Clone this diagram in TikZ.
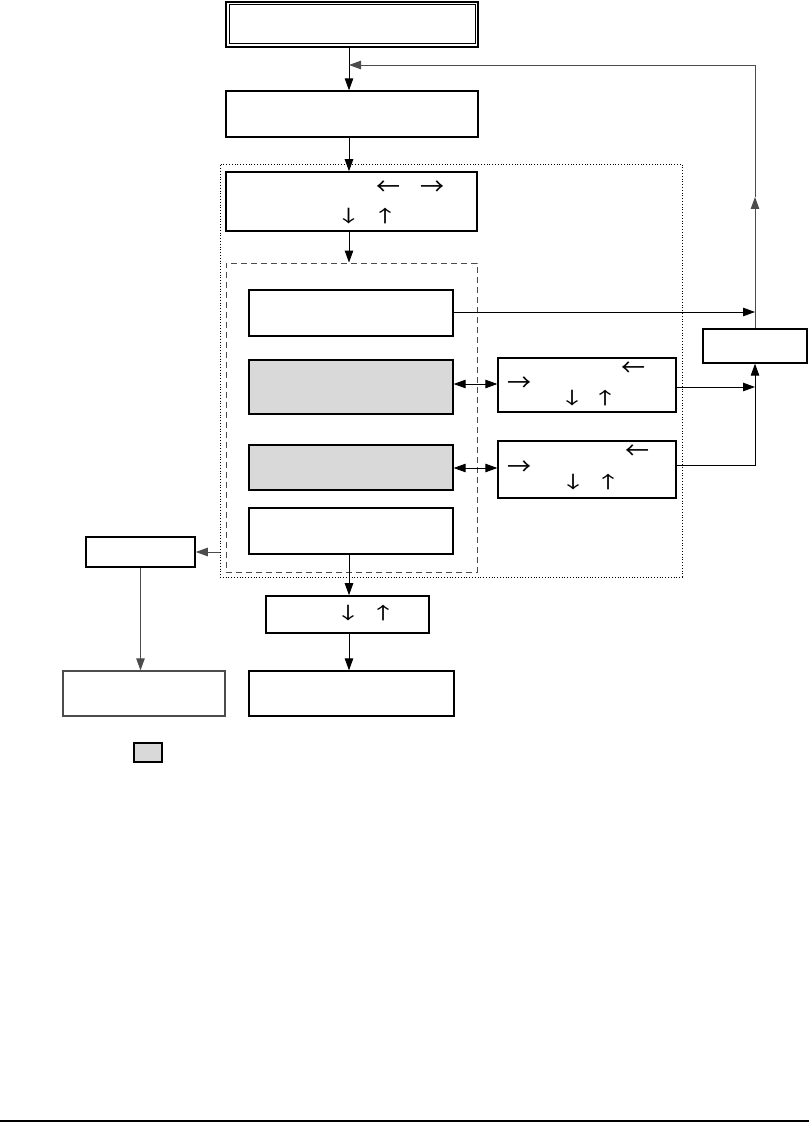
\documentclass[tikz,border=0pt]{standalone}
\usepackage{graphicx}
\usepackage{fontspec}
\newfontfamily\arrfont{Noto Sans CJK SC}
\usetikzlibrary{arrows.meta}
\newcommand{\vwide}[1]{\scalebox{1.5}[1]{#1}}
\begin{document}
\begin{tikzpicture}[x=1pt,y=-1pt,
  box/.style={draw=black,line width=1.3pt,inner sep=0pt,minimum width=204pt},
  graybox/.style={box,fill=black!15},
  conn/.style={line width=0.9pt,-{Triangle[length=12pt,width=8.5pt]}},
  gconn/.style={conn,draw=black!70},
  dconn/.style={line width=0.9pt,{Triangle[length=12pt,width=8.5pt]}-{Triangle[length=12pt,width=8.5pt]}},
  harr/.style={inner sep=0pt,font=\arrfont\fontsize{24}{24}\selectfont},
  varr/.style={inner sep=0pt,font=\arrfont\fontsize{17}{17}\selectfont}]
\useasboundingbox (0,0) rectangle (809,1123);
\coordinate (sp) at (349,0);
% frames
\node[draw=black,line width=0.8pt,dotted,minimum width=462pt,minimum height=413pt,inner sep=0pt] (outer) at (451,370.5) {};
\node[draw=black!70,line width=0.9pt,dash pattern=on 6pt off 4pt,minimum width=251pt,minimum height=309pt,inner sep=0pt] (inner) at (351.5,417.5) {};
% boxes
\node[box,line width=2pt,minimum width=252pt,minimum height=45pt] (top) at (352,24.5) {};
\draw[line width=1pt] ([xshift=4pt,yshift=-4pt]top.north west) rectangle ([xshift=-4pt,yshift=4pt]top.south east);
\node[box,minimum width=252pt,minimum height=46pt] (b2) at (352,114) {};
\node[box,line width=1.6pt,minimum width=251pt,minimum height=59pt] (b3) at (351.5,201.5) {};
\node[box,minimum height=46pt] (b4) at (351,313) {};
\node[graybox,minimum height=54pt] (b5) at (351,387) {};
\node[graybox,minimum height=45pt] (b6) at (351,467.5) {};
\node[box,minimum height=46pt] (b7) at (351,531) {};
\node[box,line width=1.6pt,minimum width=163pt,minimum height=37pt] (b8) at (347.5,614.5) {};
\node[box,minimum width=205pt,minimum height=45pt] (b9) at (351.5,693.5) {};
\node[box,line width=1.6pt,minimum width=109pt,minimum height=30pt] (b10) at (140.5,552) {};
\node[box,draw=black!70,minimum width=162pt,minimum height=45pt] (b11) at (144,693.5) {};
\node[box,minimum width=178pt,minimum height=54pt] (r1) at (587,385) {};
\node[box,minimum width=178pt,minimum height=57pt] (r2) at (587,469.5) {};
\node[box,minimum width=104pt,minimum height=34pt] (rr) at (755,346) {};
\node[graybox,minimum width=28pt,minimum height=19pt] (leg) at (148,752.5) {};
% text arrows
\node[harr] (t3a) at (388,188) {←};
\node[harr] (t3b) at (432,188) {→};
\node[varr] (t3c) at (348.5,216) {\vwide{↓}};
\node[varr] (t3d) at (385,216) {\vwide{↑}};
\node[harr] (r1a) at (633,369) {←};
\node[harr] (r1b) at (519,384) {→};
\node[varr] (r1c) at (572,398) {\vwide{↓}};
\node[varr] (r1d) at (605,398) {\vwide{↑}};
\node[harr] (r2a) at (637,452) {←};
\node[harr] (r2b) at (519,468) {→};
\node[varr] (r2c) at (573,482) {\vwide{↓}};
\node[varr] (r2d) at (608,482) {\vwide{↑}};
\node[varr] (b8c) at (348,613) {\vwide{↓}};
\node[varr] (b8d) at (383,613) {\vwide{↑}};
% connectors
\coordinate (j1) at (755,312);
\coordinate (j2) at (755,387);
\coordinate (j3) at (755,465);
\coordinate (fb) at (755,65);
\coordinate (fbm) at (755,197);
\coordinate (fbl) at (349,65);
\draw[conn] (top.south -| sp) -- (b2.north -| sp);
\draw[conn] (b2.south -| sp) -- (b3.north -| sp);
\draw[conn] (b3.south -| sp) -- (inner.north -| sp);
\draw[conn] (b7.south -| sp) -- (b8.north -| sp);
\draw[conn] (b8.south -| sp) -- (b9.north -| sp);
\draw[conn] (b4.east |- j1) -- (j1);
\draw[conn] (r1.east |- j2) -- (j2);
\draw[conn] (r2.east |- j3) -- (j3) -- (rr.south);
\draw[gconn] (rr.north) -- (fbm);
\draw[gconn] (fbm) -- (fb) -- (fbl);
\draw[dconn] (b5.east |- r1b) -- (r1.west |- r1b);
\draw[dconn] (b6.east |- r2b) -- (r2.west |- r2b);
\draw[gconn] (outer.west |- b10) -- (b10.east);
\draw[gconn] (b10.south) -- (b11.north -| b10.south);
% bottom rule
\coordinate (bl) at (0,1121);
\coordinate (br) at (809,1121);
\draw[line width=1.5pt] (bl) -- (br);
\end{tikzpicture}
\end{document}
